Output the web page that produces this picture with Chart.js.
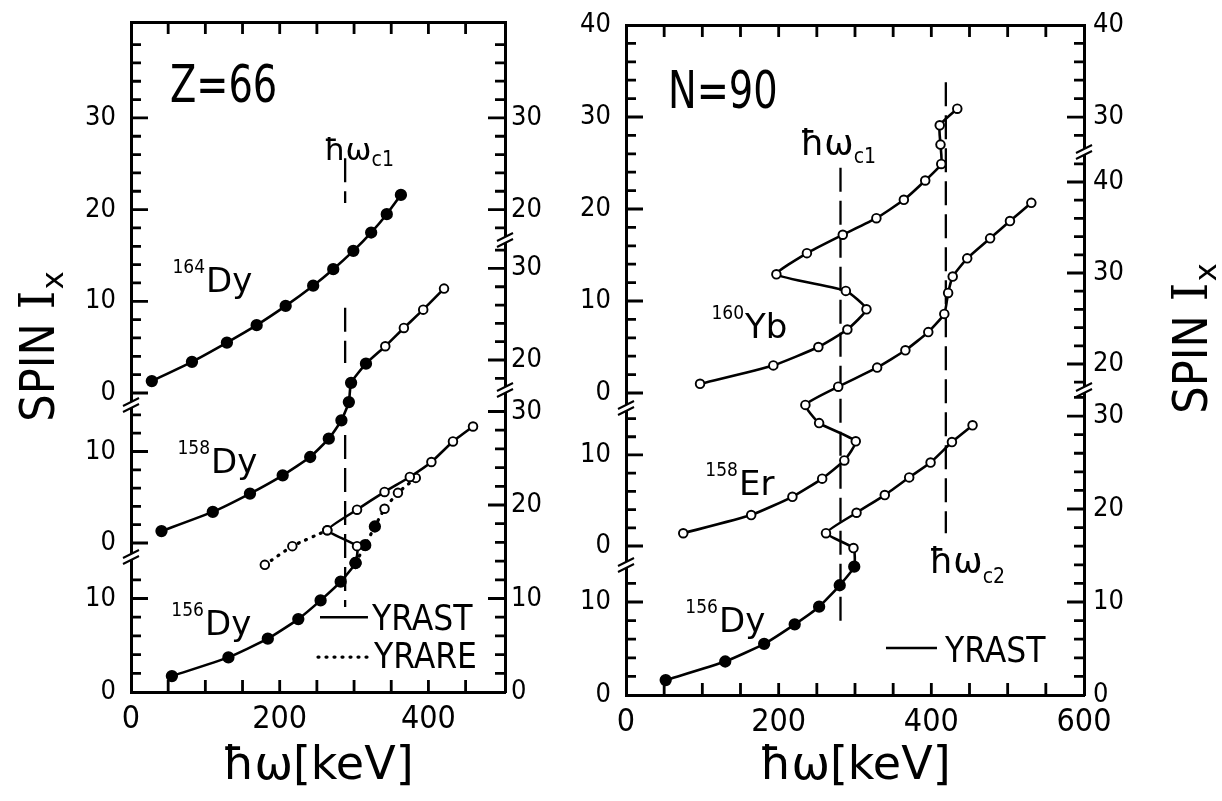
<!DOCTYPE html>
<html>
<head>
<meta charset="utf-8">
<script src="https://cdn.jsdelivr.net/npm/chart.js@4.4.1/dist/chart.umd.min.js"></script>
<style>
  html, body { margin: 0; padding: 0; background: #fff; }
  #wrap { position: relative; width: 1222px; height: 801px; background: #fff; }
  canvas { position: absolute; left: 0; top: 0; }
</style>
</head>
<body>
<div id="wrap">
  <canvas id="cL" width="1222" height="801"></canvas>
  <canvas id="cR" width="1222" height="801"></canvas>
</div>
<script>
// ================= DATA : left panel (Z = 66) =================
const dy164HwKeV = [28, 82, 129, 169, 208, 245, 272, 299, 323, 344, 363];
const dy164Spin  = [1.3, 3.4, 5.5, 7.4, 9.5, 11.7, 13.5, 15.5, 17.5, 19.5, 21.6];

const dy158HwKeV = [41, 110, 160, 204, 241, 266, 283, 293, 296, 316, 342, 367, 393, 421];
const dy158Spin  = [1.3, 3.4, 5.4, 7.4, 9.4, 11.4, 13.4, 15.4, 17.5, 19.6, 21.5, 23.5, 25.5, 27.8];
const dy158GroundCount = 10;

const dy156YrastHwKeV = [55, 131, 184, 225, 255, 282, 302, 304, 264, 304, 341, 375, 404, 433, 460];
const dy156YrastSpin  = [1.7, 3.7, 5.7, 7.8, 9.8, 11.8, 13.8, 15.6, 17.3, 19.5, 21.4, 23.0, 24.6, 26.8, 28.4];
const dy156YrastGroundCount = 7;

const dy156YrareSHwKeV = [180, 217, 264];
const dy156YrareSSpin  = [13.6, 15.6, 17.3];
const dy156YrareGHwKeV = [302, 315, 328, 341, 359, 383];
const dy156YrareGSpin  = [13.8, 15.7, 17.7, 19.6, 21.3, 22.9];
const dy156YrareGroundCount = 3;

const leftHwC1 = 288;                                           // keV
const leftHwC1Spans = [[57.1, 52.3], [41.1, 35.2], [27.5, 9.1]]; // in 156Dy spin units

const leftXTickLabels      = [0, 200, 400];
const left164LeftLabels    = [0, 10, 20, 30];
const left158LeftLabels    = [0, 10];
const left156LeftLabels    = [0, 10];
const left164RightLabels   = [20, 30];
const left158RightLabels   = [20, 30];
const left156RightLabels   = [0, 10, 20, 30];

// ================= DATA : right panel (N = 90) =================
const yb160HwKeV = [97, 193, 252, 290, 315, 288, 197, 237, 284, 328, 364, 392, 413, 412, 411, 434];
const yb160Spin  = [1.0, 3.0, 5.0, 6.9, 9.1, 11.1, 12.9, 15.2, 17.2, 19.0, 21.0, 23.1, 24.9, 27.0, 29.1, 30.9];

const er158HwKeV = [75, 164, 218, 257, 286, 301, 253, 235, 278, 329, 366, 396, 417, 422, 428, 447, 477, 503, 531];
const er158Spin  = [1.4, 3.4, 5.4, 7.4, 9.4, 11.5, 13.5, 15.5, 17.5, 19.6, 21.5, 23.5, 25.5, 27.8, 29.6, 31.6, 33.8, 35.7, 37.7];

const dy156RHwKeV = [52, 130, 181, 221, 253, 280, 299, 298, 262, 302, 339, 371, 399, 427, 454];
const dy156RSpin  = [1.6, 3.6, 5.5, 7.6, 9.5, 11.8, 13.8, 15.8, 17.4, 19.6, 21.5, 23.4, 25.0, 27.2, 29.0];
const dy156RGroundCount = 7;

const rightHwC1 = 281, rightHwC1Spans = [[56.7, 7.8]];
const rightHwC2 = 419, rightHwC2Spans = [[65.9, 17.4]];

const rightXTickLabels     = [0, 200, 400, 600];
const right160LeftLabels   = [0, 10, 20, 30, 40];
const right158LeftLabels   = [0, 10];
const right156LeftLabels   = [0, 10];
const right160RightLabels  = [30, 40];
const right158RightLabels  = [20, 30, 40];
const right156RightLabels  = [0, 10, 20, 30];

// ================= STYLE / HELPERS =================
const SANS   = '"DejaVu Sans", sans-serif';
const COND   = '"DejaVu Sans Condensed", "DejaVu Sans", sans-serif';
const SERIF  = '"DejaVu Serif", serif';
const X_STEP = 50, Y_MINOR = 2, Y_MAJOR = 10;
const AXW = 60;

const spinPts = (xs, ys) => xs.map((x, i) => ({ x: x, y: ys[i] }));
function vlinePts(x, spans) {
  const out = [];
  spans.forEach((sp, i) => {
    if (i) out.push({ x: x, y: null });
    out.push({ x: x, y: sp[0] }, { x: x, y: sp[1] });
  });
  return out;
}
function curve(label, xs, ys, axis, nFilled, dotted) {
  return {
    label, data: spinPts(xs, ys), xAxisID: 'x', yAxisID: axis,
    borderColor: '#000', borderWidth: dotted ? 3.2 : 2.6,
    borderDash: dotted ? [1, 7] : [], borderCapStyle: dotted ? 'round' : 'butt',
    borderJoinStyle: 'round', tension: 0.15, fill: false, clip: false, spanGaps: false,
    pointRadius: c => (c.dataIndex < nFilled ? 5.2 : 4.3),
    pointBackgroundColor: c => (c.dataIndex < nFilled ? '#000' : '#fff'),
    pointBorderColor: '#000', pointBorderWidth: 1.9
  };
}
function dashed(label, x, spans, axis) {
  return {
    label, data: vlinePts(x, spans), xAxisID: 'x', yAxisID: axis,
    borderColor: '#000', borderWidth: 2.3, borderDash: [24, 9],
    pointRadius: 0, spanGaps: false, clip: false, tension: 0
  };
}
function tickDataset(data, axis) {
  return {
    label: 'ticks', data: data, xAxisID: 'x', yAxisID: axis,
    borderColor: '#000', borderWidth: 2.8, borderCapStyle: 'butt',
    pointRadius: 0, spanGaps: false, clip: false, tension: 0
  };
}
// inward tick marks of one y segment, expressed in that segment's own units
function yTickMarks(id, ax, xMax, xPx) {
  const ppu = ax.px / (ax.max - ax.min), data = [];
  const x0 = ax.pos === 'left' ? 0 : xMax, dir = ax.pos === 'left' ? 1 : -1;
  for (let k = Math.ceil(ax.min / Y_MINOR - 1e-9); k * Y_MINOR <= ax.max + 1e-9; k++) {
    const v = k * Y_MINOR;
    if ((v - ax.min) * ppu < 5 || (ax.max - v) * ppu < 6) continue;
    const len = (v % Y_MAJOR === 0 ? 17 : 10) / xPx;
    data.push({ x: x0, y: v }, { x: x0 + dir * len, y: v }, { x: x0, y: null });
  }
  return tickDataset(data, id);
}
// inward tick marks of the bottom (on the lowest segment) and top (on the highest segment) frame
function xTickMarks(id, ax, atTop, xMax, xPx) {
  const ppu = ax.px / (ax.max - ax.min), data = [];
  const y0 = atTop ? ax.max : ax.min, dy = (atTop ? -12 : 12) / ppu;
  for (let v = X_STEP; v <= xMax; v += X_STEP) {
    if ((xMax - v) * xPx < 5) continue;
    data.push({ x: v, y: y0 }, { x: v, y: y0 + dy }, { x: v, y: null });
  }
  return tickDataset(data, id);
}
function noPad(s) { s.paddingTop = 0; s.paddingBottom = 0; s.paddingLeft = 0; s.paddingRight = 0; }
function yAxis(ax) {
  return {
    type: 'linear', position: ax.pos, stack: ax.pos, stackWeight: ax.px, weight: ax.order,
    min: ax.min, max: ax.max, bounds: 'data',
    afterBuildTicks: s => { s.ticks = ax.labels.map(v => ({ value: v })); },
    afterFit: s => { s.width = ax.w; noPad(s); },
    grid: { display: false, drawTicks: false },
    border: { display: true, color: '#000', width: 3 },
    ticks: { autoSkip: false, padding: ax.pad, color: '#000', font: { family: COND, size: 27 } }
  };
}
function xAxes(max, labels, bottomH, topH) {
  return {
    x: {
      type: 'linear', position: 'bottom', min: 0, max: max, bounds: 'data',
      afterBuildTicks: s => { s.ticks = labels.map(v => ({ value: v })); },
      afterFit: s => { s.height = bottomH; noPad(s); },
      grid: { display: false, drawTicks: false },
      border: { display: true, color: '#000', width: 3 },
      ticks: { autoSkip: false, maxRotation: 0, padding: 8, color: '#000', font: { family: COND, size: 32 } },
      title: { display: true, text: 'ħω[keV]', color: '#000', font: { family: SANS, size: 46 }, padding: { top: 0, bottom: 6 } }
    },
    xTop: {
      type: 'linear', position: 'top', min: 0, max: max, bounds: 'data',
      afterFit: s => { s.height = topH; noPad(s); },
      grid: { display: false, drawTicks: false },
      border: { display: true, color: '#000', width: 3 },
      ticks: { display: false }
    }
  };
}
function buildScales(axes, xMax, xLabels, bottomH, topH) {
  const sc = xAxes(xMax, xLabels, bottomH, topH);
  for (const id of Object.keys(axes)) sc[id] = yAxis(axes[id]);
  return sc;
}
function buildTicks(axes, xMax, xPx) {
  const ds = Object.keys(axes).map(id => yTickMarks(id, axes[id], xMax, xPx));
  ds.push(xTickMarks('yC', axes.yC, false, xMax, xPx));
  ds.push(xTickMarks('yA', axes.yA, true, xMax, xPx));
  return ds;
}
function seg(ctx, x1, y1, x2, y2) { ctx.beginPath(); ctx.moveTo(x1, y1); ctx.lineTo(x2, y2); ctx.stroke(); }

function drawBreaks(chart) {
  const ctx = chart.ctx, ca = chart.chartArea;
  for (const id of Object.keys(chart.scales)) {
    const s = chart.scales[id];
    const pos = s.options.position;
    if (pos === 'top' || pos === 'bottom' || s.top <= ca.top + 2) continue;
    const x = pos === 'left' ? ca.left : ca.right, y = s.top;
    ctx.save();
    ctx.setLineDash([]);
    ctx.fillStyle = '#fff';
    ctx.beginPath(); ctx.moveTo(x - 8, y + 1); ctx.lineTo(x + 8, y - 7); ctx.lineTo(x + 8, y - 1); ctx.lineTo(x - 8, y + 7); ctx.closePath(); ctx.fill();
    ctx.strokeStyle = '#000'; ctx.lineWidth = 2;
    seg(ctx, x - 8, y + 1, x + 8, y - 7);
    seg(ctx, x - 8, y + 7, x + 8, y - 1);
    ctx.restore();
  }
}
function drawYTitle(ctx, cx, cy) {
  ctx.save(); ctx.translate(cx, cy); ctx.rotate(-Math.PI / 2);
  ctx.fillStyle = '#000'; ctx.textBaseline = 'alphabetic'; ctx.textAlign = 'left';
  const f1 = '48px ' + COND, f2 = '48px ' + SERIF, f3 = '31px ' + SANS;
  ctx.font = f1; const w1 = ctx.measureText('SPIN ').width;
  ctx.font = f2; const w2 = ctx.measureText('I').width;
  ctx.font = f3; const w3 = ctx.measureText('x').width;
  let x = -(w1 + w2 + w3) / 2; const base = 17;
  ctx.font = f1; ctx.fillText('SPIN ', x, base); x += w1;
  ctx.font = f2; ctx.fillText('I', x, base); x += w2 + 1;
  ctx.font = f3; ctx.fillText('x', x, base + 9);
  ctx.restore();
}
function decor(spec) {
  return {
    id: 'decor',
    afterDraw(chart) {
      drawBreaks(chart);
      const ctx = chart.ctx, sx = chart.scales.x;
      const P = (a) => [sx.getPixelForValue(a.x), chart.scales[a.axis].getPixelForValue(a.y)];
      ctx.save(); ctx.fillStyle = '#000'; ctx.strokeStyle = '#000'; ctx.textBaseline = 'alphabetic';
      {
        const [x, y] = P(spec.panel);
        ctx.save(); ctx.translate(x, y); ctx.scale(0.82, 1);
        ctx.font = '52px ' + COND; ctx.textAlign = 'left'; ctx.fillText(spec.panel.text, 0, 0);
        ctx.restore();
      }
      for (const a of spec.iso) {
        const [x, y] = P(a);
        ctx.font = '34px ' + SANS; ctx.textAlign = 'left'; ctx.fillText(a.sym, x, y);
        ctx.font = '19px ' + COND; ctx.textAlign = 'right'; ctx.fillText(a.mass, x - 1, y - 19);
      }
      for (const a of spec.hw) {
        const [x, y] = P(a);
        ctx.font = a.size + 'px ' + SANS; ctx.textAlign = 'left'; ctx.fillText('ħω', x, y);
        const w = ctx.measureText('ħω').width;
        ctx.font = '21px ' + COND; ctx.fillText(a.sub, x + w, y + a.drop);
      }
      for (const a of spec.legend) {
        const [x1, y1] = P({ x: a.x1, y: a.ly, axis: a.axis });
        const [x2] = P({ x: a.x2, y: a.ly, axis: a.axis });
        ctx.save();
        ctx.lineWidth = a.dotted ? 3.2 : 2.6; ctx.lineCap = a.dotted ? 'round' : 'butt';
        ctx.setLineDash(a.dotted ? [1, 7] : []);
        seg(ctx, x1, y1, x2, y1);
        ctx.restore();
        const [tx, ty] = P({ x: a.tx, y: a.ty, axis: a.axis });
        ctx.font = '35px ' + COND; ctx.textAlign = 'left'; ctx.fillText(a.text, tx, ty);
      }
      ctx.restore();
      drawYTitle(ctx, spec.yTitle[0], spec.yTitle[1]);
    }
  };
}
const common = {
  responsive: false, animation: false, devicePixelRatio: 1,
  plugins: { legend: { display: false }, tooltip: { enabled: false } }
};

// ================= LEFT CHART =================
const leftXMax = 503, leftXPx = (505 - 131) / 503;
const leftAxes = {
  yA:  { pos: 'left',  order: 3, min: -1.31, max: 40.46, px: 383, labels: left164LeftLabels,  pad: 15, w: 131 },
  yB:  { pos: 'left',  order: 2, min: -1.53, max: 15.08, px: 152, labels: left158LeftLabels,  pad: 15, w: 131 },
  yC:  { pos: 'left',  order: 1, min: 0,     max: 14.44, px: 135, labels: left156LeftLabels,  pad: 15, w: 131 },
  yAR: { pos: 'right', order: 1, min: 16.68, max: 40.46, px: 218, labels: left164RightLabels, pad: 6,  w: AXW },
  yBR: { pos: 'right', order: 2, min: 16.72, max: 33.11, px: 150, labels: left158RightLabels, pad: 6,  w: AXW },
  yCR: { pos: 'right', order: 3, min: 0,     max: 32.3,  px: 302, labels: left156RightLabels, pad: 6,  w: AXW }
};
new Chart(document.getElementById('cL'), {
  type: 'line',
  data: {
    datasets: [
      curve('164Dy', dy164HwKeV, dy164Spin, 'yA', dy164HwKeV.length, false),
      curve('158Dy', dy158HwKeV, dy158Spin, 'yB', dy158GroundCount, false),
      curve('156Dy yrast', dy156YrastHwKeV, dy156YrastSpin, 'yC', dy156YrastGroundCount, false),
      curve('156Dy yrare S', dy156YrareSHwKeV, dy156YrareSSpin, 'yC', 0, true),
      curve('156Dy yrare g', dy156YrareGHwKeV, dy156YrareGSpin, 'yC', dy156YrareGroundCount, true),
      dashed('hw c1', leftHwC1, leftHwC1Spans, 'yC')
    ].concat(buildTicks(leftAxes, leftXMax, leftXPx))
  },
  options: Object.assign({}, common, {
    layout: { padding: { left: 0, right: 1222 - 505 - AXW, top: 0, bottom: 0 } },
    scales: buildScales(leftAxes, leftXMax, leftXTickLabels, 109, 22)
  }),
  plugins: [decor({
    panel: { text: 'Z=66', x: 52.5, y: 31.7, axis: 'yA' },
    iso: [
      { mass: '164', sym: 'Dy', x: 100.9, y: 11.0, axis: 'yA' },
      { mass: '158', sym: 'Dy', x: 107.6, y: 7.65, axis: 'yB' },
      { mass: '156', sym: 'Dy', x: 99.5, y: 6.1, axis: 'yC' }
    ],
    hw: [{ sub: 'c1', x: 259.6, y: 25.4, axis: 'yA', size: 31, drop: 6 }],
    legend: [
      { text: 'YRAST', dotted: false, x1: 254.2, x2: 318.7, ly: 8.0, tx: 324.1, ty: 6.63, axis: 'yC' },
      { text: 'YRARE', dotted: true, x1: 251.5, x2: 318.7, ly: 3.74, tx: 326.8, ty: 2.57, axis: 'yC' }
    ],
    yTitle: [37, 347]
  })]
});

// ================= RIGHT CHART =================
const rightXMax = 600, rightXPx = (1084 - 626) / 600;
const rightAxes = {
  yA:  { pos: 'left',  order: 3, min: -1.63, max: 40,    px: 383, labels: right160LeftLabels,  pad: 15, w: AXW },
  yB:  { pos: 'left',  order: 2, min: -2.09, max: 15.16, px: 157, labels: right158LeftLabels,  pad: 15, w: AXW },
  yC:  { pos: 'left',  order: 1, min: 0,     max: 13.98, px: 130, labels: right156LeftLabels,  pad: 15, w: AXW },
  yAR: { pos: 'right', order: 1, min: 26.2,  max: 40,    px: 127, labels: right160RightLabels, pad: 9,  w: AXW },
  yBR: { pos: 'right', order: 2, min: 17.14, max: 43.3,  px: 238, labels: right158RightLabels, pad: 9,  w: AXW },
  yCR: { pos: 'right', order: 3, min: 0,     max: 32.8,  px: 305, labels: right156RightLabels, pad: 9,  w: AXW }
};
new Chart(document.getElementById('cR'), {
  type: 'line',
  data: {
    datasets: [
      curve('160Yb', yb160HwKeV, yb160Spin, 'yA', 0, false),
      curve('158Er', er158HwKeV, er158Spin, 'yB', 0, false),
      curve('156Dy', dy156RHwKeV, dy156RSpin, 'yC', dy156RGroundCount, false),
      dashed('hw c1', rightHwC1, rightHwC1Spans, 'yC'),
      dashed('hw c2', rightHwC2, rightHwC2Spans, 'yC')
    ].concat(buildTicks(rightAxes, rightXMax, rightXPx))
  },
  options: Object.assign({}, common, {
    layout: { padding: { left: 626 - AXW, right: 1222 - 1084 - AXW, top: 0, bottom: 0 } },
    scales: buildScales(rightAxes, rightXMax, rightXTickLabels, 106, 25)
  }),
  plugins: [decor({
    panel: { text: 'N=90', x: 55, y: 31.0, axis: 'yA' },
    iso: [
      { mass: '160', sym: 'Yb', x: 155.9, y: 6.0, axis: 'yA' },
      { mass: '158', sym: 'Er', x: 148, y: 5.6, axis: 'yB' },
      { mass: '156', sym: 'Dy', x: 121.8, y: 6.8, axis: 'yC' }
    ],
    hw: [
      { sub: 'c1', x: 228, y: 25.9, axis: 'yA', size: 35, drop: 8 },
      { sub: 'c2', x: 397, y: 13.1, axis: 'yC', size: 35, drop: 10 }
    ],
    legend: [
      { text: 'YRAST', dotted: false, x1: 340.6, x2: 407.4, ly: 5.05, tx: 417.9, ty: 3.5, axis: 'yC' }
    ],
    yTitle: [1190, 339]
  })]
});
</script>
</body>
</html>
